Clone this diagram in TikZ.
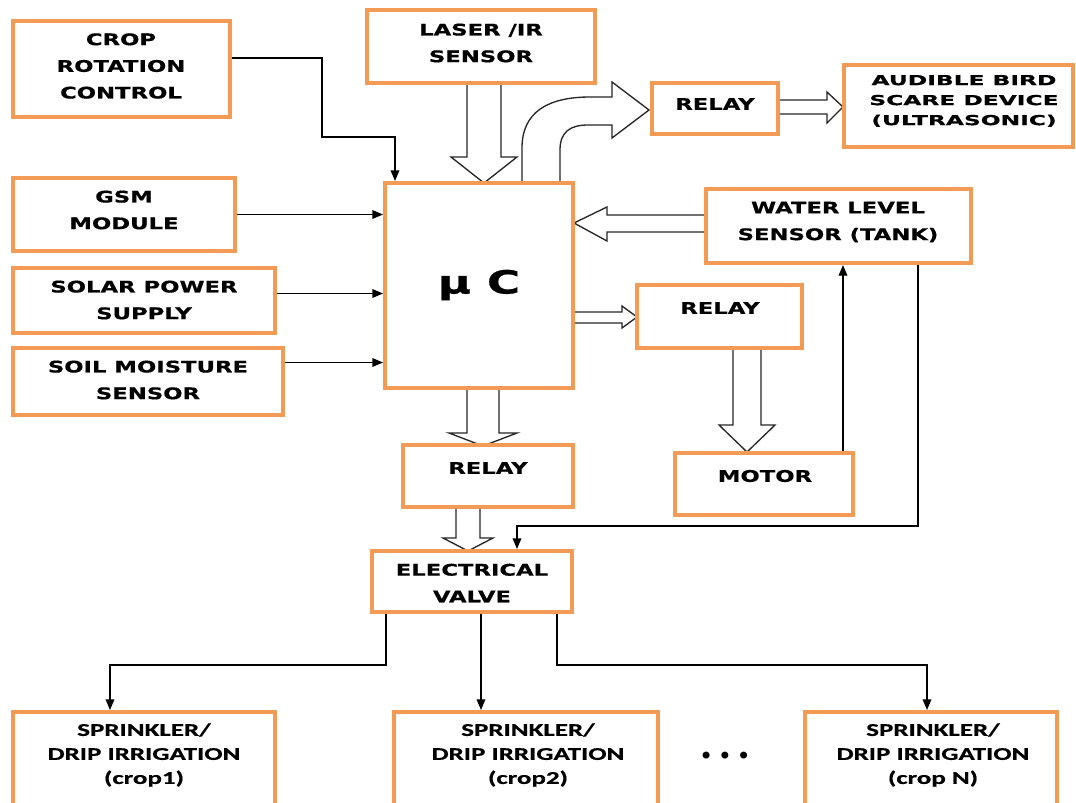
\documentclass[tikz,border=0pt]{standalone}
\usepackage{fontspec}
\usetikzlibrary{arrows.meta,fit,calc}
\newfontfamily\dvs{DejaVu Sans}[FakeStretch=1.42,FakeBold=0.6]
\newfontfamily\dva{DejaVu Sans}[FakeStretch=1.7,FakeBold=0.6]
\newfontfamily\dvn{DejaVu Sans}
\newfontfamily\crl{Carlito}[FakeStretch=1.5,FakeBold=0.6]
\definecolor{boxor}{RGB}{243,155,85}
\pgfdeclarelayer{bg}
\pgfsetlayers{bg,main}
\begin{document}
\begin{tikzpicture}[x=0.75pt,y=-0.75pt,
  box/.style={draw=boxor,line width=3pt,inner sep=0pt},
  txt/.style={font=\dvs\bfseries\fontsize{12}{20}\selectfont,align=center,text=black},
  birdtxt/.style={font=\dva\bfseries\fontsize{10.3}{15}\selectfont,align=center,text=black},
  uctxt/.style={font=\dvs\bfseries\fontsize{24}{28}\selectfont,text=black},
  sptxt/.style={font=\crl\bfseries\fontsize{13.5}{18}\selectfont,align=center,text=black},
  conn/.style={line width=1pt,draw=black,-{Triangle[length=8pt,width=6.5pt]}},
  barrow/.style={draw=black!85,line width=1pt,fill=white,line join=miter}]
\useasboundingbox (0,0) rectangle (1076,803);

% boxes
\node[box,fit={(13,21) (230,117)}] (crop) {};
\node[txt] (cropt) at (121,66) {CROP\\ROTATION\\CONTROL};
\node[box,fit={(367,10) (595,83)}] (laser) {};
\node[txt] (lasert) at (481,43) {LASER /IR\\SENSOR};
\node[box,fit={(652,83) (778,134)}] (relayA) {};
\node[txt] (relayAt) at (715,104) {RELAY};
\node[box,fit={(844,65) (1073,147)}] (bird) {};
\node[birdtxt] (birdt) at (964,101) {AUDIBLE BIRD\\SCARE DEVICE\\(ULTRASONIC)};
\node[box,fit={(13,178) (235,251)}] (gsm) {};
\node[txt] (gsmt) at (124,210) {GSM\\MODULE};
\node[box,fit={(385,183) (573,388)}] (uc) {};
\node[uctxt] (uct) at (479,285) {μ C};
\node[box,fit={(706,189) (971,263)}] (water) {};
\node[txt] (watert) at (838,222) {WATER LEVEL\\SENSOR (TANK)};
\node[box,fit={(13,268) (275,333)}] (solar) {};
\node[txt] (solart) at (144,300) {SOLAR POWER\\SUPPLY};
\node[box,fit={(637,285) (802,348)}] (relayB) {};
\node[txt] (relayBt) at (720,308) {RELAY};
\node[box,fit={(13,348) (283,415)}] (soil) {};
\node[txt] (soilt) at (148,380) {SOIL MOISTURE\\SENSOR};
\node[box,fit={(403,445) (573,507)}] (relayC) {};
\node[txt] (relayCt) at (488,468) {RELAY};
\node[box,fit={(675,453) (853,515)}] (motor) {};
\node[txt] (motort) at (765,476) {MOTOR};
\node[box,fit={(372,551) (572,612)}] (valve) {};
\node[txt] (valvet) at (472,583) {ELECTRICAL\\VALVE};
\node[box,fit={(13,712) (275,810)}] (sp1) {};
\node[sptxt] (sp1t) at (144,755) {SPRINKLER/\\DRIP IRRIGATION\\(crop1)};
\node[box,fit={(394,712) (658,810)}] (sp2) {};
\node[sptxt] (sp2t) at (528,755) {SPRINKLER/\\DRIP IRRIGATION\\(crop2)};
\node[box,fit={(805,712) (1057,810)}] (spN) {};
\node[sptxt] (spNt) at (933,755) {SPRINKLER/\\DRIP IRRIGATION\\(crop N)};
\node[font=\dvn\fontsize{18}{18}\selectfont] (dots) at (725,758) {•\kern3.5pt•\kern3.5pt•};

% thin connectors
\coordinate (cr1) at ($(crop.east)+(0,-11)$);
\draw[conn] (cr1) -| (322,137) -| ($(uc.north west)+(12,0)$);
\draw[conn] (gsm.east) -- (gsm.east -| uc.west);
\coordinate (so1) at ($(solar.east)+(0,-7)$);
\draw[conn] (so1) -- (so1 -| uc.west);
\coordinate (si1) at ($(soil.east)+(0,-19)$);
\draw[conn] (si1) -- (si1 -| uc.west);
\draw[conn] (843,0 |- motor.north) -- (843,0 |- water.south);
\draw[conn] (918,0 |- water.south) |- (517,526) -- (517,0 |- valve.north);
\draw[conn] (386,0 |- valve.south) |- (110,665) -- (110,0 |- sp1.north);
\draw[conn] (481,0 |- valve.south) -- (481,0 |- sp2.north);
\draw[conn] (557,0 |- valve.south) |- (927,665) -- (927,0 |- spN.north);

\begin{pgfonlayer}{bg}
\fill[white] (0,0) rectangle (1076,803);
% laser -> uC
\draw[barrow] (467,83) -- (467,157) -- (451,157) -- (484,183) -- (517,157) -- (501,157) -- (501,83) -- cycle;
% curved uC -> relay
\draw[barrow] (522,183) -- (522,148) .. controls (522,112) and (548,97) .. (590,97)
  -- (612,97) -- (612,82) -- (649,110) -- (612,138) -- (612,125) -- (588,125)
  .. controls (570,125) and (560,132) .. (560,150) -- (560,183) -- cycle;
% relay -> bird
\draw[barrow] (779,100) -- (827,100) -- (827,92) -- (843,107) -- (827,123) -- (827,114) -- (779,114) -- cycle;
% water -> uC
\draw[barrow] (707,215) -- (607,215) -- (607,207) -- (574,223) -- (607,241) -- (607,232) -- (707,232) -- cycle;
% uC -> relay mid
\draw[barrow] (573,312) -- (622,312) -- (622,306) -- (637,317) -- (622,328) -- (622,323) -- (573,323) -- cycle;
% relay mid -> motor
\draw[barrow] (733,348) -- (733,425) -- (719,425) -- (747,452) -- (775,425) -- (761,425) -- (761,348) -- cycle;
% uC -> relay bottom
\draw[barrow] (467,388) -- (467,433) -- (449,433) -- (483,446) -- (517,433) -- (499,433) -- (499,388) -- cycle;
% relay bottom -> valve
\draw[barrow] (456,507) -- (456,538) -- (443,538) -- (468,551) -- (493,538) -- (480,538) -- (480,507) -- cycle;
\end{pgfonlayer}
\end{tikzpicture}
\end{document}
